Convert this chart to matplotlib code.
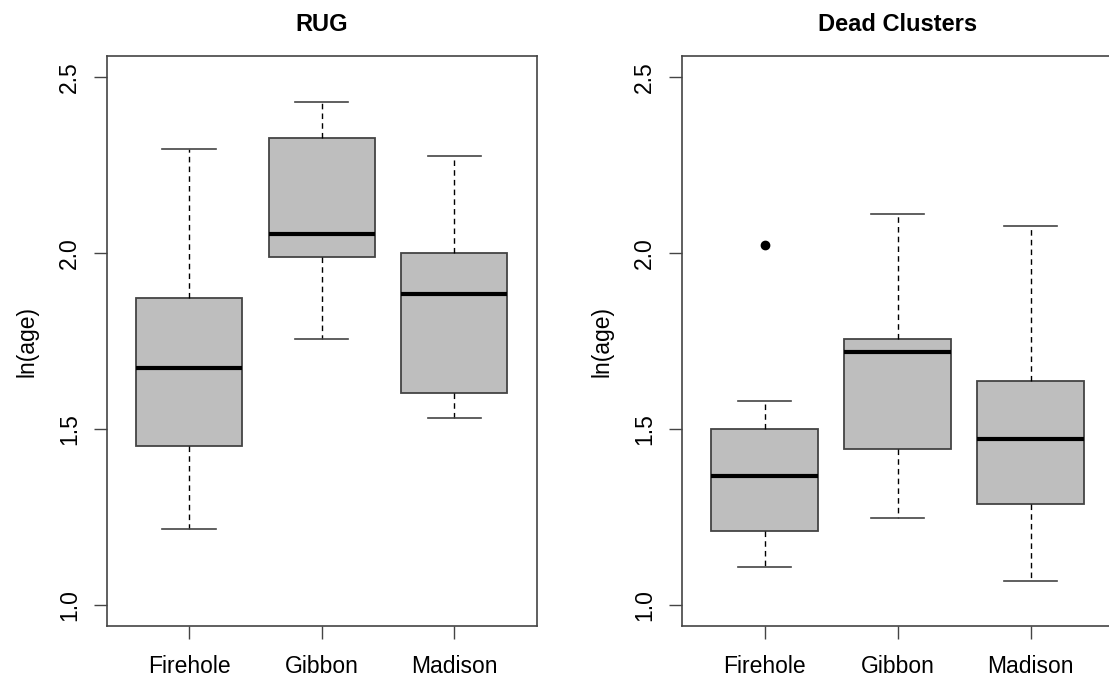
import matplotlib
matplotlib.use("Agg")
import matplotlib.pyplot as plt

plt.rcParams['font.family'] = ['Liberation Sans', 'DejaVu Sans']

rivers = ["Firehole", "Gibbon", "Madison"]

# RUG: five-number summaries of ln(age)
rug_whislo = [1.216, 1.757, 1.533]
rug_q1 = [1.453, 1.988, 1.602]
rug_med = [1.674, 2.054, 1.884]
rug_q3 = [1.873, 2.327, 1.999]
rug_whishi = [2.295, 2.428, 2.276]
rug_fliers = [[], [], []]

# Dead clusters
dead_whislo = [1.108, 1.248, 1.069]
dead_q1 = [1.212, 1.444, 1.289]
dead_med = [1.367, 1.718, 1.472]
dead_q3 = [1.501, 1.757, 1.637]
dead_whishi = [1.580, 2.111, 2.078]
dead_fliers = [[2.024], [], []]

FRAME = "#444444"
FILL = "#bebebe"


def make_stats(lo, q1, med, q3, hi, fl):
    return [dict(whislo=a, q1=b, med=c, q3=d, whishi=e, fliers=f, label=n)
            for a, b, c, d, e, f, n in zip(lo, q1, med, q3, hi, fl, rivers)]


def draw_panel(ax, stats, title):
    ax.bxp(stats, positions=[1, 2, 3], widths=0.8, patch_artist=True,
           showfliers=True,
           boxprops=dict(facecolor=FILL, edgecolor=FRAME, linewidth=1.3),
           medianprops=dict(color="black", linewidth=3.0, solid_capstyle="butt"),
           whiskerprops=dict(color="black", linewidth=1.0, linestyle=(0, (4, 3))),
           capprops=dict(color=FRAME, linewidth=1.2),
           flierprops=dict(marker="o", markerfacecolor="black",
                           markeredgecolor="black", markersize=6))
    ax.set_xlim(0.38, 3.62)
    ax.set_ylim(0.94, 2.56)
    ax.set_yticks([1.0, 1.5, 2.0, 2.5])
    ax.set_yticklabels(["1.0", "1.5", "2.0", "2.5"], rotation=90, va="center")
    ax.set_xticks([1, 2, 3])
    ax.set_xticklabels(rivers)
    ax.tick_params(axis="both", length=9.5, width=1.0, color=FRAME,
                   labelsize=16.5, direction="out")
    ax.tick_params(axis="x", pad=11)
    ax.tick_params(axis="y", pad=9)
    for s in ax.spines.values():
        s.set_color(FRAME)
        s.set_linewidth(1.2)
    ax.set_ylabel("ln(age)", fontsize=16.5, labelpad=14)
    ax.set_title(title, fontsize=17, fontweight="bold", pad=18)


fig = plt.figure(figsize=(11.09, 6.8), dpi=100)
ax1 = fig.add_axes([0.0962, 0.0787, 0.3877, 0.8394])
ax2 = fig.add_axes([0.615, 0.0787, 0.3886, 0.8394])

draw_panel(ax1, make_stats(rug_whislo, rug_q1, rug_med, rug_q3, rug_whishi, rug_fliers), "RUG")
draw_panel(ax2, make_stats(dead_whislo, dead_q1, dead_med, dead_q3, dead_whishi, dead_fliers), "Dead Clusters")

fig.savefig("out.png", dpi=100)
